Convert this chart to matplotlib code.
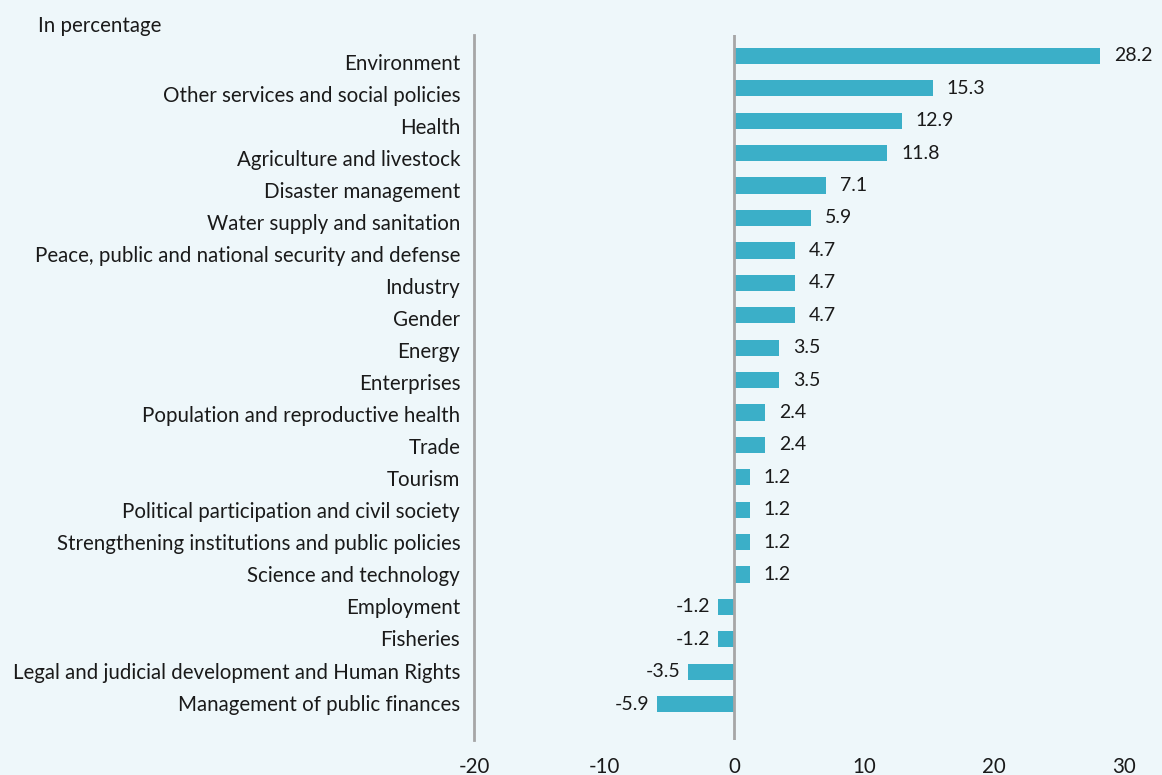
import numpy as np
import matplotlib
matplotlib.use("Agg")
import matplotlib.pyplot as plt
from matplotlib.transforms import ScaledTranslation

plt.rcParams['font.family'] = ['Lato', 'DejaVu Sans']
plt.rcParams['axes.unicode_minus'] = False

categories = [
    "Environment",
    "Other services and social policies",
    "Health",
    "Agriculture and livestock",
    "Disaster management",
    "Water supply and sanitation",
    "Peace, public and national security and defense",
    "Industry",
    "Gender",
    "Energy",
    "Enterprises",
    "Population and reproductive health",
    "Trade",
    "Tourism",
    "Political participation and civil society",
    "Strengthening institutions and public policies",
    "Science and technology",
    "Employment",
    "Fisheries",
    "Legal and judicial development and Human Rights",
    "Management of public finances",
]
values = [28.2, 15.3, 12.9, 11.8, 7.1, 5.9, 4.7, 4.7, 4.7, 3.5, 3.5,
          2.4, 2.4, 1.2, 1.2, 1.2, 1.2, -1.2, -1.2, -3.5, -5.9]
xticks = [-20, -10, 0, 10, 20, 30]

bg = "#EEF7FA"
bar_color = "#3BAFC8"
line_color = "#A6A6A6"
txt = "#1a1a1a"

fig = plt.figure(figsize=(11.62, 7.75), dpi=100, facecolor=bg)
ax = fig.add_axes([0.408, 0.045, 0.559, 0.91])
ax.set_facecolor(bg)

pos = np.arange(len(categories))
ax.barh(pos, values, height=0.5, color=bar_color, zorder=2)

for p, v in zip(pos, values):
    if v >= 0:
        ax.annotate(f"{v:.1f}", (v, p), xytext=(10, 0), textcoords="offset points",
                    ha="left", va="center", fontsize=14, color=txt,
                    annotation_clip=False)
    else:
        ax.annotate(f"{v:.1f}", (v, p), xytext=(-6, 0), textcoords="offset points",
                    ha="right", va="center", fontsize=14, color=txt,
                    annotation_clip=False)

ax.set_xlim(-20, 30)
ax.set_ylim(len(categories) - 1 + 1.11, -0.65)
ax.axvline(0, color=line_color, linewidth=2, zorder=3)

for s in ["top", "right", "bottom"]:
    ax.spines[s].set_visible(False)
ax.spines["left"].set_color(line_color)
ax.spines["left"].set_linewidth(2)

ax.set_yticks(pos)
ax.set_yticklabels(categories, fontsize=14.8, color=txt)
ax.set_xticks(xticks)
ax.set_xticklabels([str(t) for t in xticks], fontsize=14.8, color=txt)
ax.tick_params(axis="y", length=0, pad=10)
ax.tick_params(axis="x", length=0, pad=12)

# in the original the category labels drift: ~6px below the bar at the top,
# level with it at the bottom
for i, lab in enumerate(ax.get_yticklabels()):
    dy = (6 - 0.38 * i) / 100
    lab.set_transform(lab.get_transform() + ScaledTranslation(0, -dy, fig.dpi_scale_trans))

fig.text(38 / 1162, 1 - 26 / 775, "In percentage", ha="left", va="center",
         fontsize=14.8, color=txt)

fig.savefig("out.png", dpi=100, facecolor=bg)
